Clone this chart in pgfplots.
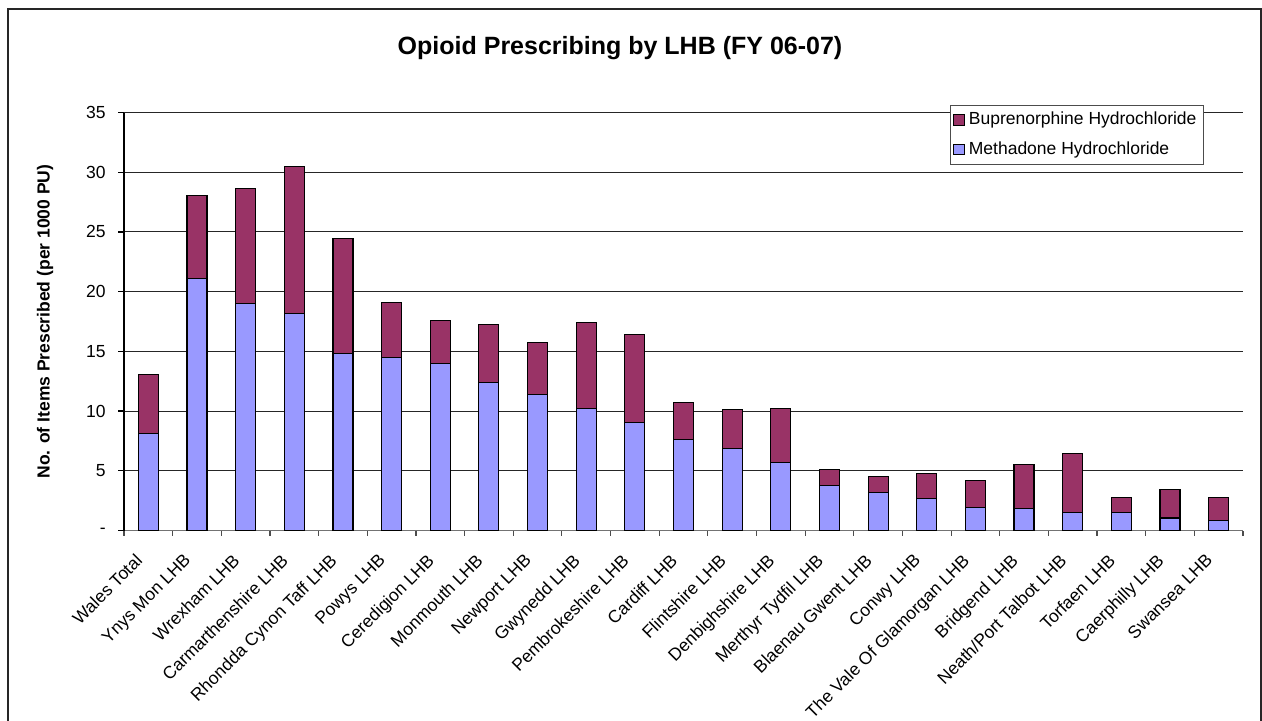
\documentclass[border=0pt]{standalone}
\usepackage{pgfplots}
\pgfplotsset{compat=1.18}
\usepackage{fontspec}
\setmainfont{Liberation Sans}
\definecolor{meth}{RGB}{153,153,255}
\definecolor{bup}{RGB}{153,51,102}

\pgfplotstableread{
idx meth bup
0  8.12 4.92
1  21.13 6.93
2  18.99 9.63
3  18.17 12.29
4  14.85 9.63
5  14.46 4.66
6  14.01 3.55
7  12.42 4.81
8  11.36 4.41
9  10.20 7.20
10 9.02 7.42
11 7.60 3.09
12 6.87 3.23
13 5.70 4.50
14 3.80 1.30
15 3.20 1.30
16 2.70 2.10
17 1.95 2.25
18 1.87 3.63
19 1.50 4.95
20 1.50 1.26
21 1.04 2.42
22 0.84 1.90
}\datatable

\begin{document}
\begin{tikzpicture}
\useasboundingbox (0,0) rectangle (631pt,360pt);
\draw[line width=1pt, black!85] (4pt,-5pt) rectangle (630.5pt,355.5pt);
\node[font=\bfseries\fontsize{12.5pt}{15pt}\selectfont] at (310pt,336pt) {Opioid Prescribing by LHB (FY 06-07)};
\begin{axis}[
  at={(62pt,94.75pt)}, anchor=south west,
  scale only axis, width=559.5pt, height=209pt,
  ybar stacked, bar width=10pt,
  xmin=-0.5, xmax=22.5, ymin=0, ymax=35,
  axis x line*=bottom, axis y line*=left,
  x axis line style={black!55, line width=0.6pt, -},
  y axis line style={black, line width=0.6pt, -},
  tick align=outside, major tick length=3pt, minor tick length=2.5pt,
  xtick={0,...,22},
  xticklabels={Wales Total, Ynys Mon LHB, Wrexham LHB, Carmarthenshire LHB, Rhondda Cynon Taff LHB, Powys LHB, Ceredigion LHB, Monmouth LHB, Newport LHB, Gwynedd LHB, Pembrokeshire LHB, Cardiff LHB, Flintshire LHB, Denbighshire LHB, Merthyr Tydfil LHB, Blaenau Gwent LHB, Conwy LHB, The Vale Of Glamorgan LHB, Bridgend LHB, Neath/Port Talbot LHB, Torfaen LHB, Caerphilly LHB, Swansea LHB},
  major x tick style={draw=none},
  minor xtick={-0.5,0.5,...,22.5},
  minor x tick style={black!70, line width=0.6pt},
  xticklabel style={xshift=-7pt, yshift=-8pt, rotate=45, anchor=north east, inner sep=0pt, font=\fontsize{8.75pt}{10.5pt}\selectfont},
  ytick={0,5,...,35},
  yticklabels={-,5,10,15,20,25,30,35},
  ytick style={black, line width=0.6pt},
  yticklabel style={font=\fontsize{8.75pt}{10.5pt}\selectfont, inner sep=0pt, xshift=-6pt},
  ymajorgrids, grid style={black!85, line width=0.5pt},
  ylabel={No. of Items Prescribed (per 1000 PU)},
  every axis y label/.style={at={(axis description cs:0,0.5)}, rotate=90, anchor=center, yshift=39.5pt, font=\bfseries\fontsize{8.75pt}{10.5pt}\selectfont},
  /pgf/number format/assume math mode=true,
  reverse legend,
  legend cell align=left,
  legend style={at={(1,1)}, anchor=north east, xshift=-19.5pt, yshift=4pt, draw=black!70, line width=0.5pt, font=\fontsize{8.75pt}{10.5pt}\selectfont, row sep=3pt, inner sep=1.5pt},
  legend image code/.code={\draw[#1, draw=black, line width=0.5pt] (0pt,-2.6pt) rectangle (5.2pt,2.6pt);},
]
\addplot[fill=meth, draw=black, line width=0.6pt] table[x=idx, y=meth] {\datatable};
\addlegendentry{Methadone Hydrochloride}
\addplot[fill=bup, draw=black, line width=0.6pt] table[x=idx, y=bup] {\datatable};
\addlegendentry{Buprenorphine Hydrochloride}
\end{axis}
\end{tikzpicture}
\end{document}
